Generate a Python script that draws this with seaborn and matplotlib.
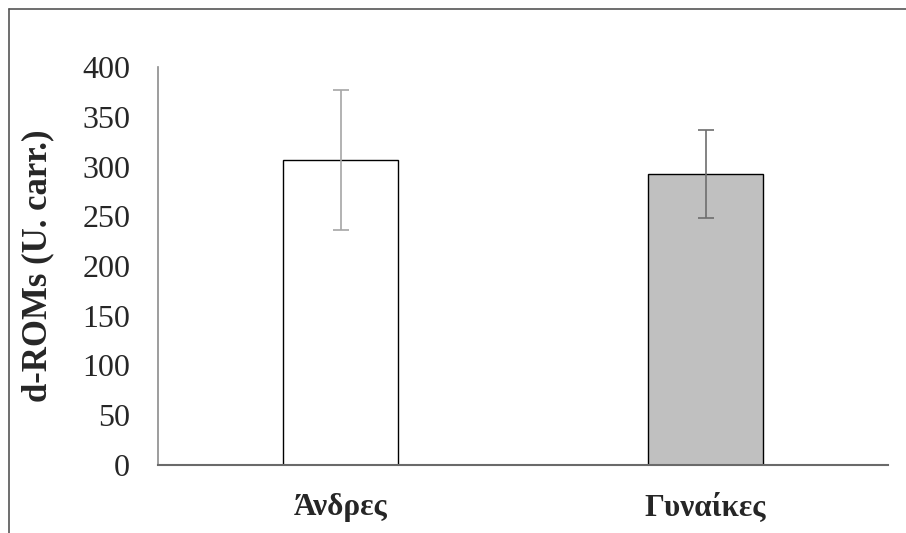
import matplotlib
matplotlib.use("Agg")
import matplotlib.pyplot as plt
from matplotlib.lines import Line2D
import seaborn as sns
import pandas as pd

categories = ["Άνδρες", "Γυναίκες"]
means = [306.5, 292.7]
errors = [70.4, 44.2]
bar_colors = ["#ffffff", "#c0c0c0"]
err_colors = ["#a6a6a6", "#6e6e6e"]
y_ticks = [0, 50, 100, 150, 200, 250, 300, 350, 400]
y_label = "d-ROMs (U. carr.)"

sns.set_style("white")
plt.rcParams["font.family"] = ["Liberation Serif", "DejaVu Serif"]

df = pd.DataFrame({"cat": categories, "val": means})

fig = plt.figure(figsize=(9.06, 5.33), dpi=100)
ax = fig.add_axes([158 / 906, 1 - 465 / 533, (888 - 158) / 906, (465 - 67) / 533])

sns.barplot(data=df, x="cat", y="val", hue="cat", palette=bar_colors,
            order=categories, hue_order=categories, legend=False,
            width=0.315, edgecolor="black", linewidth=1.0, ax=ax, errorbar=None)

for i, (m, e, c) in enumerate(zip(means, errors, err_colors)):
    ax.errorbar(i, m, yerr=e, fmt="none", ecolor=c, elinewidth=1.2,
                capsize=6, capthick=1.2, zorder=5)

ax.set_xlim(-0.5, 1.5)
ax.set_ylim(0, 400)
ax.set_yticks(y_ticks)
ax.set_yticklabels([str(t) for t in y_ticks], fontsize=23)
ax.tick_params(axis="y", length=0, pad=20)
ax.tick_params(axis="x", length=0, pad=20)
for lbl in ax.get_xticklabels():
    lbl.set_fontsize(22.5)
    lbl.set_fontweight("bold")
ax.set_xlabel("")
ax.set_ylabel(y_label, fontsize=25, fontweight="bold")
ax.yaxis.set_label_coords((54 - 158) / (888 - 158), 0.5)

for s in ["top", "right"]:
    ax.spines[s].set_visible(False)
ax.spines["left"].set_color("#8c8c8c")
ax.spines["left"].set_linewidth(1.2)
ax.spines["bottom"].set_color("#6a6a6a")
ax.spines["bottom"].set_linewidth(1.5)

# outer chart frame (partially cropped in the reference)
fig.add_artist(Line2D([8.5 / 906, 8.5 / 906], [1 - 9 / 533, 0], transform=fig.transFigure,
                      color="#555555", linewidth=1.2))
fig.add_artist(Line2D([8.5 / 906, 1], [1 - 9 / 533, 1 - 9 / 533], transform=fig.transFigure,
                      color="#555555", linewidth=1.2))

fig.savefig("out.png", dpi=100)
